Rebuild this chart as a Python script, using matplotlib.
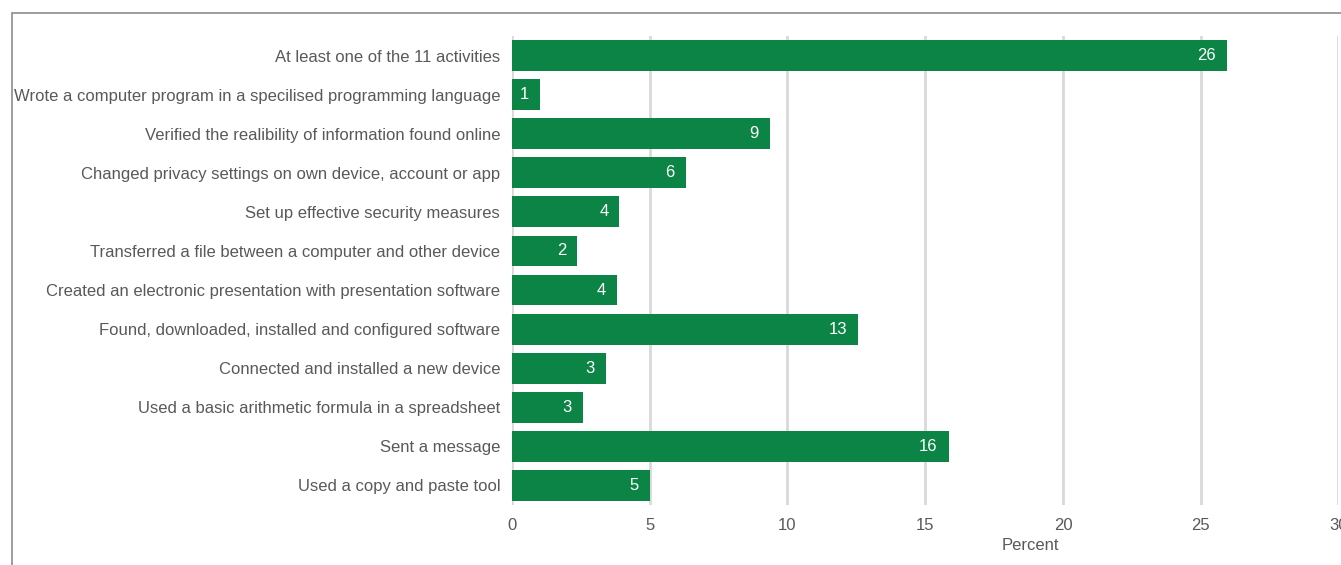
import matplotlib
matplotlib.use("Agg")
import matplotlib.pyplot as plt
from matplotlib.patches import Rectangle

categories = [
    "At least one of the 11 activities",
    "Wrote a computer program in a specilised programming language",
    "Verified the realibility of information found online",
    "Changed privacy settings on own device, account or app",
    "Set up effective security measures",
    "Transferred a file between a computer and other device",
    "Created an electronic presentation with presentation software",
    "Found, downloaded, installed and configured software",
    "Connected and installed a new device",
    "Used a basic arithmetic formula in a spreadsheet",
    "Sent a message",
    "Used a copy and paste tool",
]
values = [25.95, 1.0, 9.35, 6.3, 3.9, 2.36, 3.8, 12.55, 3.4, 2.57, 15.85, 5.0]
value_labels = ["26", "1", "9", "6", "4", "2", "4", "13", "3", "3", "16", "5"]
xticks = [0, 5, 10, 15, 20, 25, 30]

plt.rcParams["font.family"] = ["Liberation Sans", "DejaVu Sans"]
W, H = 1341, 565
fig = plt.figure(figsize=(W / 100, H / 100), dpi=100)

x0, x1 = 512, 1338.5
ytop, ybot = 36, 505
ax = fig.add_axes([x0 / W, 1 - ybot / H, (x1 - x0) / W, (ybot - ytop) / H])

green = "#0b8446"
textc = "#595959"
pos = list(range(len(categories)))
ax.barh(pos, values, height=0.79, color=green, zorder=3)
ax.set_ylim(len(categories) - 0.5, -0.5)
ax.set_xlim(0, 30)
ax.set_yticks(pos)
ax.set_yticklabels(categories, fontsize=12, color=textc)
ax.set_xticks(xticks)
ax.set_xticklabels([str(t) for t in xticks], fontsize=12, color=textc)
ax.tick_params(axis="both", length=0)
ax.tick_params(axis="y", pad=8.5)
ax.tick_params(axis="x", pad=9)
for s in ax.spines.values():
    s.set_visible(False)
ax.grid(axis="x", color="#d9d9d9", linewidth=2, zorder=0)
ax.set_axisbelow(True)

px = 30 / (x1 - x0)
for p, v, lab in zip(pos, values, value_labels):
    ax.text(v - 11 * px, p, lab, ha="right", va="center", color="white",
            fontsize=12, zorder=4)

ax.set_xlabel("Percent", fontsize=12, color=textc)
ax.xaxis.set_label_coords((1030 - x0) / (x1 - x0), -(545 - ybot) / (ybot - ytop), transform=ax.transAxes)
ax.xaxis.label.set_va("center")

fig.patches.append(Rectangle((12 / W, -0.1), 1.2, 1.1 - 13 / H, transform=fig.transFigure,
                             fill=False, edgecolor="#8c8c8c", linewidth=1.2, zorder=0))

fig.savefig("out.png", dpi=100)
